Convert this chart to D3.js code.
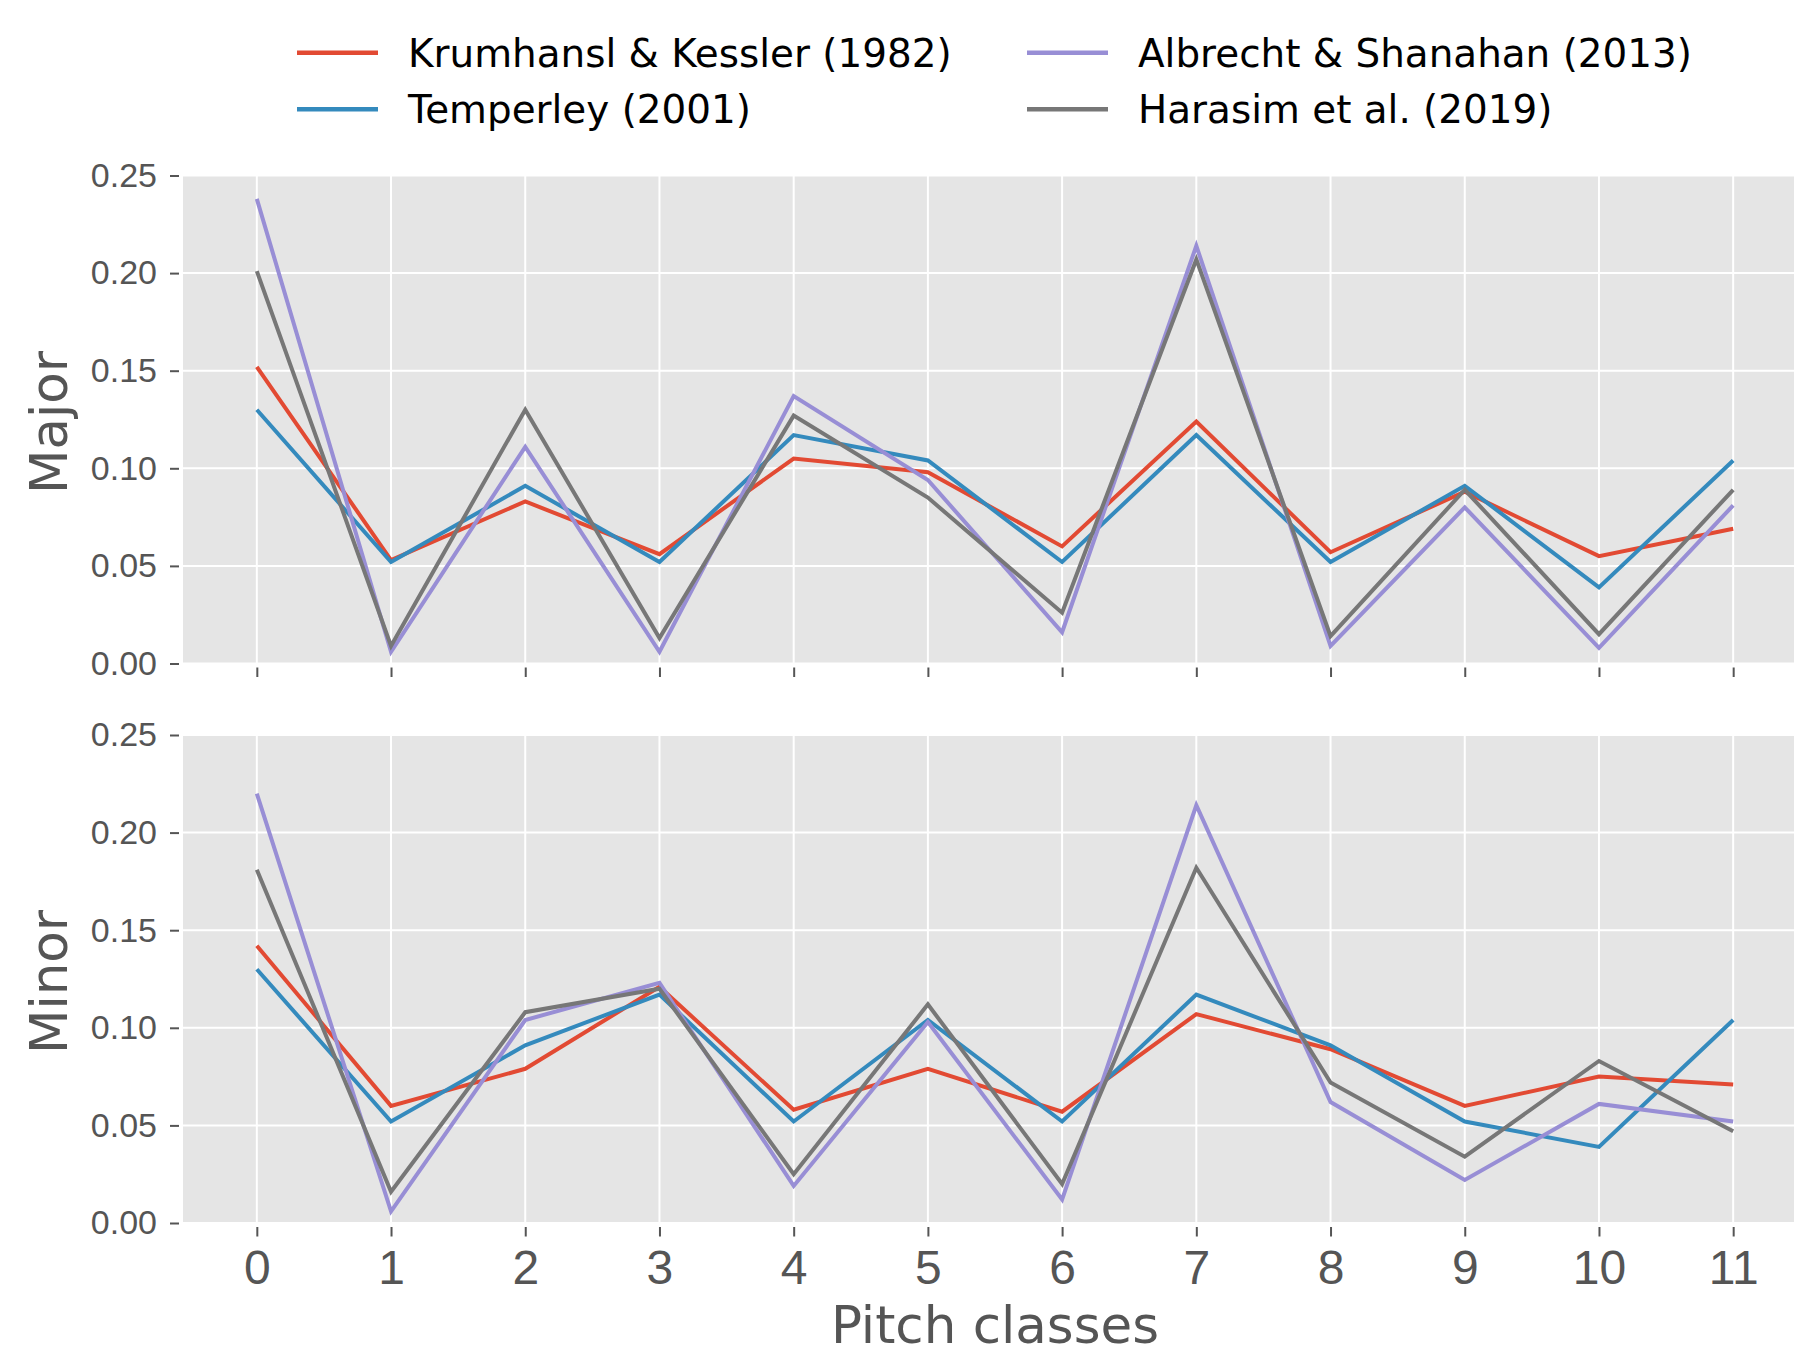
<!DOCTYPE html>
<html>
<head>
<meta charset="utf-8">
<script src="https://cdn.jsdelivr.net/npm/d3@7"></script>
<style>
  body { margin: 0; background: #fff; }
  svg { display: block; font-family: "DejaVu Sans", sans-serif; }
</style>
</head>
<body>
<div id="chart"></div>
<script>
'use strict';

// pitch classes 0..11
var pitchClasses = [0, 1, 2, 3, 4, 5, 6, 7, 8, 9, 10, 11];
var yTicks = [0.00, 0.05, 0.10, 0.15, 0.20, 0.25];

var seriesNames = ["Krumhansl & Kessler (1982)", "Temperley (2001)", "Albrecht & Shanahan (2013)", "Harasim et al. (2019)"];
var seriesColors = ["#E24A33", "#348ABD", "#988ED5", "#777777"];

// values
var kkMajor = [0.152, 0.053, 0.083, 0.056, 0.105, 0.098, 0.060, 0.124, 0.057, 0.088, 0.055, 0.069];
var tMajor  = [0.130, 0.052, 0.091, 0.052, 0.117, 0.104, 0.052, 0.117, 0.052, 0.091, 0.039, 0.104];
var asMajor = [0.238, 0.006, 0.111, 0.006, 0.137, 0.094, 0.016, 0.214, 0.009, 0.080, 0.008, 0.081];
var hMajor  = [0.201, 0.009, 0.130, 0.013, 0.127, 0.085, 0.026, 0.207, 0.014, 0.089, 0.015, 0.089];

var kkMinor = [0.142, 0.060, 0.079, 0.121, 0.058, 0.079, 0.057, 0.107, 0.089, 0.060, 0.075, 0.071];
var tMinor  = [0.130, 0.052, 0.091, 0.117, 0.052, 0.104, 0.052, 0.117, 0.091, 0.052, 0.039, 0.104];
var asMinor = [0.220, 0.006, 0.104, 0.123, 0.019, 0.103, 0.012, 0.214, 0.062, 0.022, 0.061, 0.052];
var hMinor  = [0.181, 0.016, 0.108, 0.120, 0.025, 0.112, 0.020, 0.182, 0.072, 0.034, 0.083, 0.047];

var panels = [
  { label: "Major", series: [kkMajor, tMajor, asMajor, hMajor], top: 175.5 },
  { label: "Minor", series: [kkMinor, tMinor, asMinor, hMinor], top: 735 }
];

var width = 1794, height = 1358;
var plotLeft = 183, plotRight = 1807, panelH = 488;
var textColor = "#555555";

var svg = d3.select("#chart").append("svg")
  .attr("width", width)
  .attr("height", height);

var xScale = d3.scaleLinear()
  .domain([-0.55, 11.55])
  .range([plotLeft, plotRight]);

panels.forEach(function(p, pi) {
  var yScale = d3.scaleLinear()
    .domain([0, 0.25])
    .range([p.top + panelH, p.top]);

  var g = svg.append("g").attr("class", "panel");

  g.append("rect")
    .attr("x", plotLeft)
    .attr("y", p.top)
    .attr("width", plotRight - plotLeft)
    .attr("height", panelH)
    .attr("fill", "#E5E5E5");

  // grid
  g.selectAll(".hgrid")
    .data(yTicks)
    .enter().append("line")
    .attr("x1", plotLeft).attr("x2", plotRight)
    .attr("y1", function(d) { return yScale(d); })
    .attr("y2", function(d) { return yScale(d); })
    .attr("stroke", "#fff").attr("stroke-width", 2);

  g.selectAll(".vgrid")
    .data(pitchClasses)
    .enter().append("line")
    .attr("x1", function(d) { return xScale(d); })
    .attr("x2", function(d) { return xScale(d); })
    .attr("y1", p.top).attr("y2", p.top + panelH)
    .attr("stroke", "#fff").attr("stroke-width", 2);

  // lines
  var line = d3.line()
    .x(function(d, i) { return xScale(pitchClasses[i]); })
    .y(function(d) { return yScale(d); });

  p.series.forEach(function(s, si) {
    g.append("path")
      .datum(s)
      .attr("d", line)
      .attr("fill", "none")
      .attr("stroke", seriesColors[si])
      .attr("stroke-width", 4)
      .attr("stroke-linejoin", "miter");
  });

  // y axis
  var yAxis = svg.append("g")
    .attr("transform", "translate(" + (plotLeft - 4) + ",0)")
    .call(d3.axisLeft(yScale).tickValues(yTicks).tickFormat(d3.format(".2f"))
      .tickSize(9).tickSizeOuter(0).tickPadding(13));
  yAxis.select(".domain").remove();
  yAxis.selectAll(".tick line").attr("stroke", textColor).attr("stroke-width", 2);
  yAxis.selectAll(".tick text")
    .attr("fill", textColor)
    .style("font-size", "34px");

  // x axis
  var xAxisGen = d3.axisBottom(xScale).tickValues(pitchClasses)
    .tickSize(9.5).tickSizeOuter(0).tickPadding(13);
  if (pi === 0) xAxisGen.tickFormat("");
  var xAxis = svg.append("g")
    .attr("transform", "translate(0," + (p.top + panelH + 4) + ")")
    .call(xAxisGen);
  xAxis.select(".domain").remove();
  xAxis.selectAll(".tick line").attr("stroke", textColor).attr("stroke-width", 2);
  xAxis.selectAll(".tick text")
    .attr("fill", textColor)
    .style("font-size", "48px");

  // y label
  svg.append("text")
    .attr("transform", "translate(67," + (p.top + panelH / 2 + 3) + ") rotate(-90)")
    .attr("text-anchor", "middle")
    .attr("fill", textColor)
    .style("font-size", "51.5px")
    .text(p.label);
});

svg.append("text")
  .attr("x", (plotLeft + plotRight) / 2)
  .attr("y", 1343)
  .attr("text-anchor", "middle")
  .attr("fill", textColor)
  .style("font-size", "51.5px")
  .text("Pitch classes");

// legend, two columns filled column-first
var legendCols = [297, 1027];
var legendRows = [52.7, 109.3];
var legend = svg.append("g").attr("class", "legend");
seriesNames.forEach(function(name, i) {
  var cx = legendCols[Math.floor(i / 2)];
  var cy = legendRows[i % 2];
  legend.append("line")
    .attr("x1", cx).attr("x2", cx + 81)
    .attr("y1", cy).attr("y2", cy)
    .attr("stroke", seriesColors[i])
    .attr("stroke-width", 4.5);
  legend.append("text")
    .attr("x", cx + 111)
    .attr("y", cy + 14)
    .attr("fill", "#000")
    .style("font-size", "38.9px")
    .text(name);
});
</script>
</body>
</html>
